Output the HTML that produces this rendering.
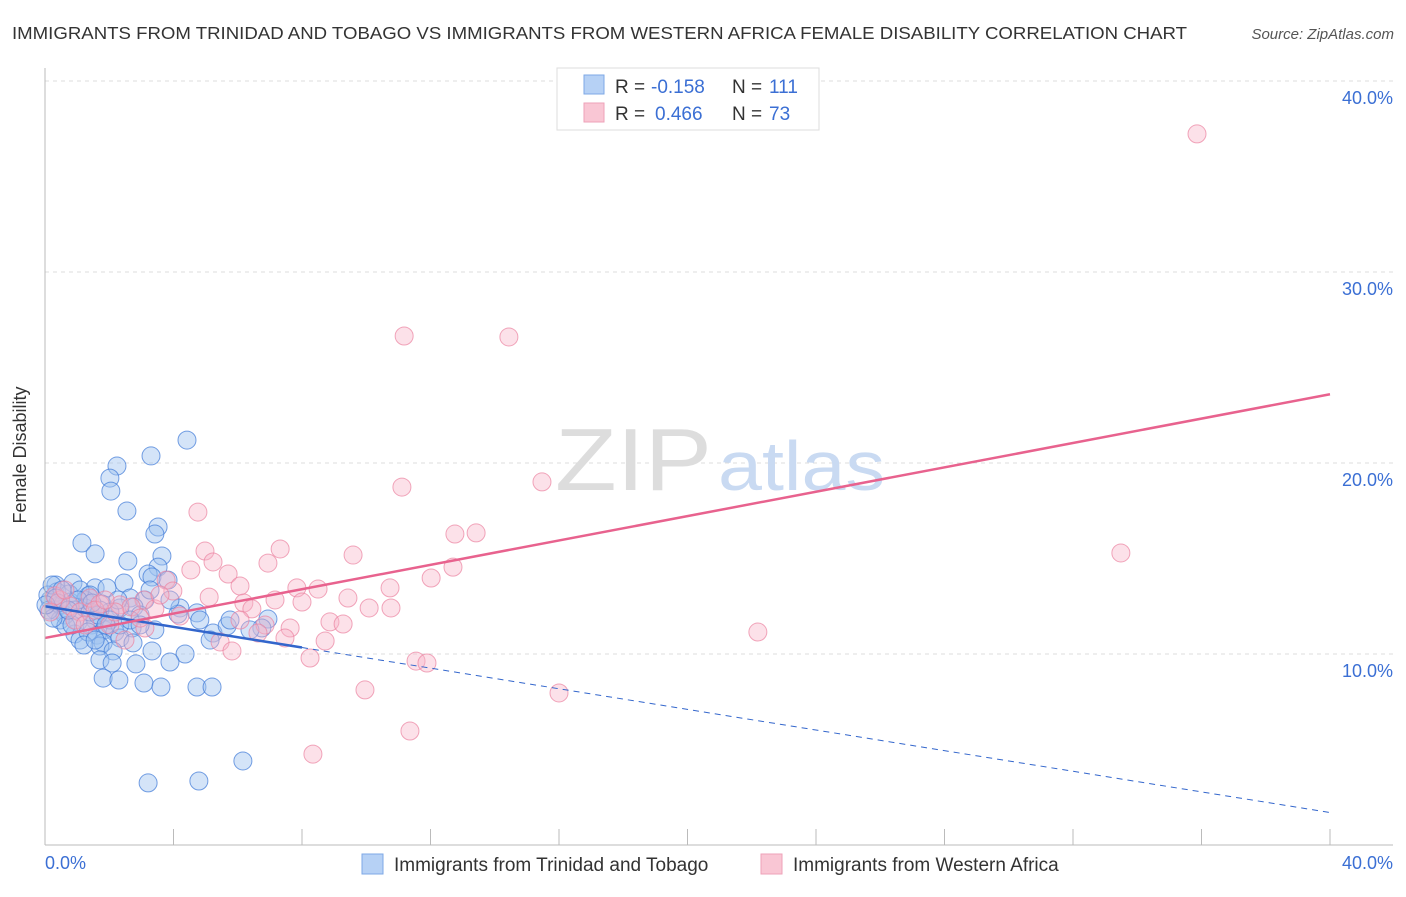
<!DOCTYPE html>
<html><head><meta charset="utf-8"><style>
body{margin:0;background:#fff;font-family:"Liberation Sans",sans-serif;}
svg text{font-family:"Liberation Sans",sans-serif;}
</style></head><body>
<svg width="1406" height="892" viewBox="0 0 1406 892">
<text x="12" y="39" font-size="17.5" fill="#333" textLength="1175" lengthAdjust="spacingAndGlyphs">IMMIGRANTS FROM TRINIDAD AND TOBAGO VS IMMIGRANTS FROM WESTERN AFRICA FEMALE DISABILITY CORRELATION CHART</text>
<text x="1394" y="39" font-size="15" fill="#555" font-style="italic" text-anchor="end">Source: ZipAtlas.com</text>
<g id="grid"></g>
<g>
<text x="555" y="490" font-size="88" fill="#ddd" font-family="Liberation Serif,serif" textLength="157" lengthAdjust="spacingAndGlyphs">ZIP</text>
<text x="718" y="490" font-size="70" fill="#c9daf2" textLength="167" lengthAdjust="spacingAndGlyphs">atlas</text>
</g>
<g id="pts"></g>
<g id="lines"></g>
<line x1="45" y1="68" x2="45" y2="845" stroke="#bbb"/>
<line x1="45" y1="845" x2="1393" y2="845" stroke="#bbb"/>
<text x="26" y="455" font-size="18" fill="#333" text-anchor="middle" transform="rotate(-90 26 455)">Female Disability</text>
<text x="45" y="869" font-size="18" fill="#3b6fd4">0.0%</text>
<text x="1393" y="869" font-size="18" fill="#3b6fd4" text-anchor="end">40.0%</text>
<g>
<rect x="557" y="68" width="262" height="62" fill="#fff" stroke="#ddd"/>
<rect x="584" y="75" width="20" height="19" fill="#b6d1f5" stroke="#7ea8e6"/>
<rect x="584" y="103" width="20" height="19" fill="#f9c6d4" stroke="#eea2b8"/>
<text x="615" y="93" font-size="19" fill="#333">R =</text>
<text x="651" y="93" font-size="19" fill="#3b6fd4">-0.158</text>
<text x="732" y="93" font-size="19" fill="#333">N =</text>
<text x="769" y="93" font-size="19" fill="#3b6fd4">111</text>
<text x="615" y="120" font-size="19" fill="#333">R =</text>
<text x="655" y="120" font-size="19" fill="#3b6fd4">0.466</text>
<text x="732" y="120" font-size="19" fill="#333">N =</text>
<text x="769" y="120" font-size="19" fill="#3b6fd4">73</text>
</g>
<g>
<rect x="362" y="854" width="21" height="20" fill="#b6d1f5" stroke="#7ea8e6"/>
<text x="394" y="871" font-size="19" fill="#333">Immigrants from Trinidad and Tobago</text>
<rect x="761" y="854" width="21" height="20" fill="#f9c6d4" stroke="#eea2b8"/>
<text x="793" y="871" font-size="19" fill="#333">Immigrants from Western Africa</text>
</g>
</svg>
<script>
const yTicks=[10,20,30,40];
const xTickCount=10;
const bluePx=[[187,440],[151,456],[117,466],[110,478],[111,491],[127,511],[158,527],[155,534],[82,543],[95,554],[128,561],[162,556],[158,567],[148,574],[152,577],[168,580],[124,583],[56,585],[73,583],[95,588],[107,588],[57,592],[69,594],[88,596],[85,600],[130,598],[145,600],[180,608],[197,613],[178,614],[134,607],[102,604],[120,608],[110,612],[95,620],[78,622],[92,625],[104,630],[115,632],[132,628],[155,630],[213,633],[227,626],[268,619],[262,628],[97,635],[103,643],[120,638],[133,643],[75,634],[80,640],[100,646],[113,651],[152,651],[185,654],[100,660],[112,663],[136,664],[170,662],[103,678],[119,680],[144,683],[161,687],[197,687],[212,687],[243,761],[199,781],[148,783],[50,600],[55,610],[60,605],[48,595],[65,615],[70,602],[75,610],[85,608],[90,612],[60,620],[52,585],[62,590],[80,590],[90,595],[100,610],[110,620],[120,625],[140,615],[150,590],[170,600],[200,620],[250,630],[210,640],[230,620],[88,632],[66,626],[56,598],[72,625],[84,645],[118,600],[130,620],[98,615],[106,625],[58,603],[49,610],[53,618],[78,600],[68,610],[92,603],[46,605],[95,640],[140,625]];
const pinkPx=[[1197,134],[404,336],[509,337],[402,487],[542,482],[198,512],[455,534],[476,533],[1121,553],[205,551],[280,549],[353,555],[213,562],[268,563],[191,570],[228,574],[453,567],[431,578],[166,580],[240,586],[297,588],[318,589],[390,588],[348,598],[209,597],[144,600],[302,602],[173,591],[244,603],[120,605],[131,607],[155,609],[180,616],[252,609],[369,608],[391,608],[265,625],[290,628],[330,622],[343,624],[258,633],[285,638],[325,641],[220,642],[232,651],[110,625],[145,628],[125,640],[758,632],[310,658],[416,661],[427,663],[365,690],[559,693],[410,731],[313,754],[60,600],[70,606],[80,612],[90,598],[100,604],[75,620],[55,596],[65,590],[85,625],[115,612],[140,618],[50,612],[95,610],[105,600],[160,595],[240,620],[275,600]];
const blueX=bluePx.map(p=>+((p[0]-45)/32.125).toFixed(2));
const blueY=bluePx.map(p=>+((845-p[1])/19.1).toFixed(2));
const pinkX=pinkPx.map(p=>+((p[0]-45)/32.125).toFixed(2));
const pinkY=pinkPx.map(p=>+((845-p[1])/19.1).toFixed(2));
const blueTrend=[12.5,1.7];
const blueSolidEnd=8.0;
const pinkTrend=[10.84,23.6];
const NS='http://www.w3.org/2000/svg';
const sx=v=>45+v*32.125, sy=v=>845-v*19.1;
function mk(t,a,parent){const e=document.createElementNS(NS,t);for(const k in a)e.setAttribute(k,a[k]);parent.appendChild(e);return e;}
const grid=document.getElementById('grid');
yTicks.forEach(v=>{
 const l=mk('line',{x1:45,x2:1393,y1:sy(v),y2:sy(v),stroke:'#ddd','stroke-dasharray':'4,4'},grid);
 
 
 const t=mk('text',{x:1393,y:sy(v)+23,'font-size':18,fill:'#3b6fd4','text-anchor':'end'},grid);
 t.textContent=v.toFixed(1)+'%';
 
 
});
for(let i=1;i<=xTickCount;i++){
 const l=mk('line',{x1:sx(i*4),x2:sx(i*4),y1:829,y2:845,stroke:'#bbb'},grid);
 
 
}
const pts=document.getElementById('pts');
blueX.forEach((x,i)=>{
 const c=mk('circle',{cx:sx(x),cy:sy(blueY[i]),r:9,fill:'rgba(160,196,240,0.45)',stroke:'rgba(60,120,215,0.7)','stroke-width':1},pts);
 
 
});
pinkX.forEach((x,i)=>{
 const c=mk('circle',{cx:sx(x),cy:sy(pinkY[i]),r:9,fill:'rgba(248,180,200,0.4)',stroke:'rgba(235,130,160,0.7)','stroke-width':1},pts);
 
 
});
const ln=document.getElementById('lines');
const by=x=>blueTrend[0]+(blueTrend[1]-blueTrend[0])*x/40;
let a=mk('line',{x1:sx(0),y1:sy(by(0)),x2:sx(blueSolidEnd),y2:sy(by(blueSolidEnd)),stroke:'#3366cc','stroke-width':2.5},ln);


a=mk('line',{x1:sx(blueSolidEnd),y1:sy(by(blueSolidEnd)),x2:sx(40),y2:sy(by(40)),stroke:'#3366cc','stroke-width':1,'stroke-dasharray':'6,5'},ln);


a=mk('line',{x1:sx(0),y1:sy(pinkTrend[0]),x2:sx(40),y2:sy(pinkTrend[1]),stroke:'#e8628e','stroke-width':2.5},ln);


</script>
</body></html>
